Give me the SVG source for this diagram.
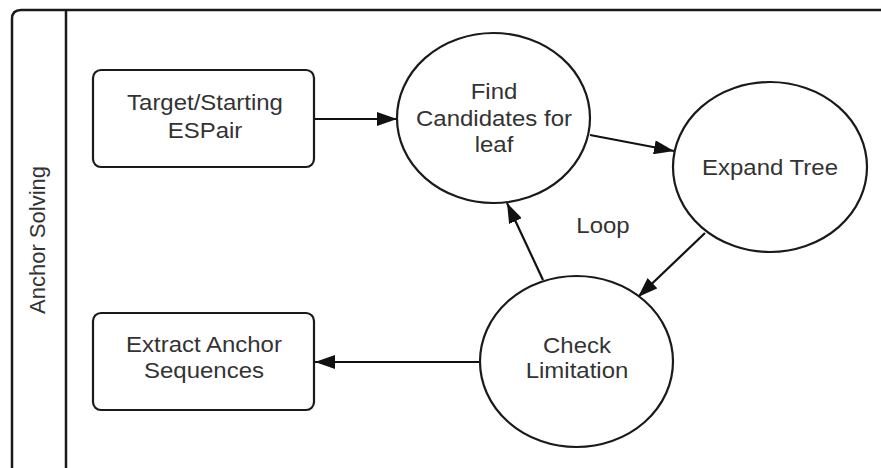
<svg xmlns="http://www.w3.org/2000/svg" width="881" height="468" viewBox="0 0 881 468">
<defs>
<style>
.frame{fill:none;stroke:#1a1a1a;stroke-width:2.5}
.node{fill:#ffffff;stroke:#1a1a1a;stroke-width:2.2}
.edge{fill:none;stroke:#111;stroke-width:2.2}
.t{font-family:"Liberation Sans",Arial,sans-serif;font-size:22px;fill:#333;text-anchor:middle}
</style>
<marker id="arr" viewBox="0 0 20 14" refX="20" refY="7" markerWidth="20" markerHeight="14" markerUnits="userSpaceOnUse" orient="auto">
<path d="M0,0 L20,7 L0,14 z" fill="#111"/>
</marker>
</defs>
<rect width="881" height="468" fill="#ffffff"/>
<g id="lane">
<path class="frame" d="M12,472 L12,19 Q12,10 21,10 L885,10"/>
<line class="frame" x1="66" y1="10" x2="66" y2="472"/>
<text class="t" transform="translate(45 240) rotate(-90)" x="0" y="0">Anchor Solving</text>
</g>
<g id="connectors">
<line class="edge" x1="314" y1="119" x2="397" y2="119" marker-end="url(#arr)"/>
<line class="edge" x1="590" y1="135" x2="674" y2="151" marker-end="url(#arr)"/>
<line class="edge" x1="705" y1="233" x2="638" y2="297" marker-end="url(#arr)"/>
<line class="edge" x1="543" y1="280" x2="507" y2="203" marker-end="url(#arr)"/>
<line class="edge" x1="480" y1="362" x2="315" y2="362" marker-end="url(#arr)"/>
<g transform="translate(603 0) scale(1.09 1)"><text class="t" x="0" y="233">Loop</text></g>
</g>
<g id="target">
<rect class="node" x="93" y="70" width="221" height="97" rx="8"/>
<g transform="translate(205 0) scale(1.09 1)"><text class="t" x="0" y="110">Target/Starting</text><text class="t" x="0" y="138">ESPair</text></g>
</g>
<g id="extract">
<rect class="node" x="93" y="313" width="221" height="97" rx="8"/>
<g transform="translate(204 0) scale(1.09 1)"><text class="t" x="0" y="352">Extract Anchor</text><text class="t" x="0" y="378">Sequences</text></g>
</g>
<g id="find">
<ellipse class="node" cx="493.5" cy="118" rx="96.5" ry="85"/>
<g transform="translate(494 0) scale(1.09 1)"><text class="t" x="0" y="99">Find</text><text class="t" x="0" y="126">Candidates for</text><text class="t" x="0" y="152">leaf</text></g>
</g>
<g id="expand">
<ellipse class="node" cx="770" cy="167" rx="97" ry="85"/>
<g transform="translate(770 0) scale(1.09 1)"><text class="t" x="0" y="175">Expand Tree</text></g>
</g>
<g id="check">
<ellipse class="node" cx="576.5" cy="361.5" rx="96.5" ry="85.5"/>
<g transform="translate(577 0) scale(1.09 1)"><text class="t" x="0" y="353">Check</text><text class="t" x="0" y="378">Limitation</text></g>
</g>
</svg>
